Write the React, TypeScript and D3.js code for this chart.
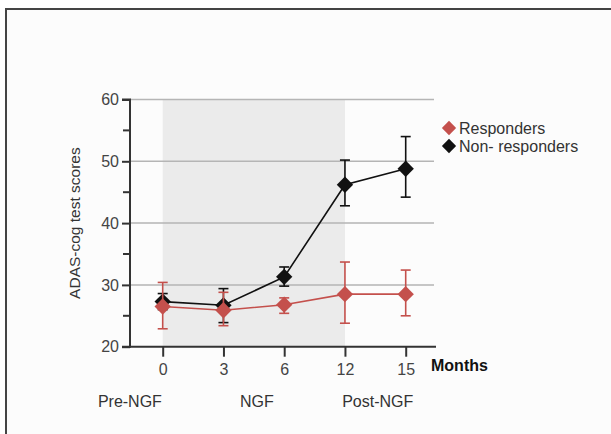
import React, { useEffect, useRef } from 'react'
import * as d3 from 'd3'

const months = ['0', '3', '6', '12', '15']
const phases = [
  { label: 'Pre-NGF', at: -0.54 },
  { label: 'NGF', at: 1.55 },
  { label: 'Post-NGF', at: 3.54 }
]
const yTicks = [20, 30, 40, 50, 60]
const yMinor = [25, 35, 45, 55]

const responders = [26.5, 25.9, 26.8, 28.5, 28.5]
const respondersHi = [30.4, 28.8, 27.9, 33.7, 32.4]
const respondersLo = [22.9, 23.4, 25.4, 23.8, 25.0]

const nonResponders = [27.3, 26.7, 31.3, 46.2, 48.8]
const nonRespondersHi = [28.6, 29.4, 32.9, 50.2, 54.0]
const nonRespondersLo = [26.0, 23.9, 29.8, 42.8, 44.2]

const RED = '#c4504c'
const BLACK = '#111'
const FONT = 'Arial, "Liberation Sans", sans-serif'

function App() {
  const ref = useRef(null)

  useEffect(() => {
    const svg = d3.select(ref.current)
    svg.selectAll('*').remove()

    // frame of the figure
    svg.append('rect').attr('x', 0).attr('y', 0).attr('width', 611).attr('height', 434).attr('fill', '#fff')
    svg.append('rect').attr('x', 6).attr('y', 9).attr('width', 620).attr('height', 440)
      .attr('fill', '#fcfcfc').attr('stroke', '#444').attr('stroke-width', 2)

    const x = d3.scalePoint().domain(months).range([162.7, 405.7])
    const step = x.step()
    const y = d3.scaleLinear().domain([20, 60]).range([346.7, 99.5])
    const axisX = 130
    const right = 434

    const g = svg.append('g').attr('font-family', FONT)

    // shaded NGF period
    g.append('rect')
      .attr('x', x('0')).attr('y', y(60))
      .attr('width', x('12') - x('0')).attr('height', y(20) - y(60))
      .attr('fill', '#ebebeb')

    // gridlines
    g.selectAll('.grid').data(yTicks.slice(1)).enter().append('line')
      .attr('x1', axisX).attr('x2', right)
      .attr('y1', d => y(d)).attr('y2', d => y(d))
      .attr('stroke', '#b5b5b5').attr('stroke-width', 1.5)

    // y axis
    const yAxis = g.append('g').attr('transform', `translate(${axisX},0)`)
      .call(d3.axisLeft(y).tickValues(yTicks).tickSize(8).tickPadding(3))
    yAxis.select('.domain').attr('stroke', '#333').attr('stroke-width', 2).attr('d', `M-8,${y(60)}H0V${y(20)}H-8`)
    yAxis.selectAll('.tick line').attr('stroke', '#333').attr('stroke-width', 2)
    yAxis.selectAll('text').attr('font-size', 16).attr('fill', '#444').attr('font-family', FONT)
    g.selectAll('.minor').data(yMinor).enter().append('line')
      .attr('x1', axisX - 7).attr('x2', axisX)
      .attr('y1', d => y(d)).attr('y2', d => y(d))
      .attr('stroke', '#333').attr('stroke-width', 2)

    // x axis
    const xAxis = g.append('g').attr('transform', `translate(0,${y(20)})`)
      .call(d3.axisBottom(x).tickSize(10).tickPadding(7))
    xAxis.select('.domain').attr('stroke', '#333').attr('stroke-width', 2).attr('d', `M${axisX},0H${right + 2}`)
    xAxis.selectAll('.tick line').attr('stroke', '#333').attr('stroke-width', 2)
    xAxis.selectAll('text').attr('font-size', 16).attr('fill', '#444').attr('font-family', FONT)

    g.append('text').attr('x', 431).attr('y', 371).attr('font-size', 16).attr('font-weight', 'bold')
      .attr('fill', '#111').text('Months')

    g.selectAll('.phase').data(phases).enter().append('text')
      .attr('x', d => x('0') + d.at * step)
      .attr('y', 407).attr('text-anchor', 'middle').attr('font-size', 16).attr('fill', '#333')
      .text(d => d.label)

    g.append('text')
      .attr('transform', `translate(80,${y(40)}) rotate(-90)`)
      .attr('text-anchor', 'middle').attr('font-size', 15.5).attr('fill', '#333')
      .text('ADAS-cog test scores')

    const diamond = d3.symbol().type(d3.symbolDiamond2).size(170)
    const line = d3.line<number>().x((_, i) => x(months[i])).y(d => y(d))

    const drawSeries = (vals: number[], hi: number[], lo: number[], color: string) => {
      const s = g.append('g')
      s.append('path').attr('d', line(vals)).attr('fill', 'none').attr('stroke', color).attr('stroke-width', 1.6)
      vals.forEach((v, i) => {
        const cx = x(months[i])
        s.append('line').attr('x1', cx).attr('x2', cx).attr('y1', y(hi[i])).attr('y2', y(lo[i]))
          .attr('stroke', color).attr('stroke-width', 1.6)
        ;[hi[i], lo[i]].forEach(e => {
          s.append('line').attr('x1', cx - 5).attr('x2', cx + 5).attr('y1', y(e)).attr('y2', y(e))
            .attr('stroke', color).attr('stroke-width', 1.6)
        })
        s.append('path').attr('d', diamond()).attr('transform', `translate(${cx},${y(v)})`).attr('fill', color)
      })
    }
    drawSeries(nonResponders, nonRespondersHi, nonRespondersLo, BLACK)
    drawSeries(responders, respondersHi, respondersLo, RED)

    // legend
    const legend = [
      { label: 'Responders', color: RED },
      { label: 'Non- responders', color: BLACK }
    ]
    const lg = g.append('g').attr('transform', 'translate(449,128)')
    legend.forEach((d, i) => {
      lg.append('path').attr('d', d3.symbol().type(d3.symbolDiamond2).size(130)())
        .attr('transform', `translate(0,${i * 18})`).attr('fill', d.color)
      lg.append('text').attr('x', 10).attr('y', i * 18 + 6).attr('font-size', 16).attr('fill', '#333').text(d.label)
    })
  }, [])

  return <svg ref={ref} width={611} height={434} style={{ position: 'absolute', left: 0, top: 0 }} />
}

export default App
